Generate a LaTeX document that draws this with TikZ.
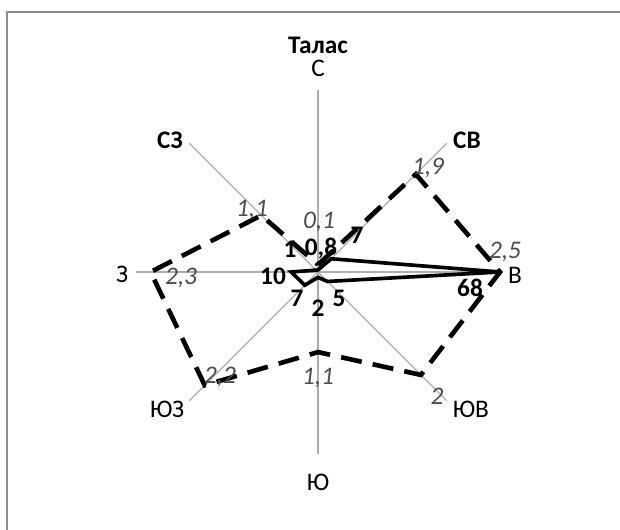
\documentclass[tikz,border=0pt]{standalone}
\usepackage{fontspec}
\setmainfont{Carlito}
\usepackage{tikz}

\newcommand{\chartfont}{\fontsize{18}{21}\selectfont}

\begin{document}
\begin{tikzpicture}[x=0.025cm, y=0.025cm, font=\chartfont,
	axisline/.style={draw=black!32, line width=0.8pt},
	windA/.style={draw=black, line width=3.3pt, dash pattern=on 15pt off 8pt, line join=miter},
	windB/.style={draw=black, line width=2.6pt, line join=miter},
	lblA/.style={font=\chartfont\itshape, text=black!70, inner sep=0pt},
	lblB/.style={font=\chartfont\bfseries, inner sep=0pt},
	dirlbl/.style={inner sep=0pt}]
	\useasboundingbox (0,0) rectangle (620,530);
	%frame
	\draw[black!45, line width=1.4pt] (7,0) -- (7,518) -- (620,518);
	%axes
	\begin{scope}[shift={(318,258)}]
		\coordinate (O) at (0,0);
		\draw[axisline] (O) -- (90:182);
		\draw[axisline] (O) -- (45:182);
		\draw[axisline] (O) -- (0:182);
		\draw[axisline] (O) -- (-45:182);
		\draw[axisline] (O) -- (-90:182);
		\draw[axisline] (O) -- (-135:182);
		\draw[axisline] (O) -- (180:182);
		\draw[axisline] (O) -- (135:182);
		%first series (dashed)
		\draw[windA] (90:7.3) -- (45:138.3) -- (0:182) -- (-45:145.6) -- (-90:80.1)
			-- (-135:160.2) -- (180:167.4) -- (135:80.1) -- cycle;
		%second series (solid)
		\draw[windB] (90:2.1) -- (45:18.7) -- (0:182) -- (-45:13.4) -- (-90:5.4)
			-- (-135:18.7) -- (180:26.8) -- (135:2.7) -- cycle;
	\end{scope}
	%title and directions
	\node[font=\chartfont\bfseries, dirlbl] (title) at (318,485) {Талас};
	\node[dirlbl] (dN) at (318,462) {С};
	\node[font=\chartfont\bfseries, dirlbl] (dNW) at (170,390) {СЗ};
	\node[font=\chartfont\bfseries, dirlbl] (dNE) at (467,390) {СВ};
	\node[dirlbl] (dW) at (122,256) {З};
	\node[dirlbl] (dE) at (515,255) {В};
	\node[dirlbl] (dSW) at (167,121) {ЮЗ};
	\node[dirlbl] (dSE) at (471,121) {ЮВ};
	\node[dirlbl] (dS) at (318,48) {Ю};
	%values of the first series
	\node[lblA] (aN) at (319,308) {0,1};
	\node[lblA] (aNE) at (428,362) {1,9};
	\node[lblA] (aE) at (505,278) {2,5};
	\node[lblA] (aSE) at (437,134) {2};
	\node[lblA] (aS) at (318,152) {1,1};
	\node[lblA] (aSW) at (220,153) {2,2};
	\node[lblA] (aW) at (181,252) {2,3};
	\node[lblA] (aNW) at (252,320) {1,1};
	%values of the second series
	\node[lblB] (bN) at (321,282) {0,8};
	\node[lblB] (bNE) at (357,295) {7};
	\node[lblB] (bE) at (470,242) {68};
	\node[lblB] (bSE) at (339,232) {5};
	\node[lblB] (bS) at (318,222) {2};
	\node[lblB] (bSW) at (297,232) {7};
	\node[lblB] (bW) at (273,254) {10};
	\node[lblB] (bNW) at (290,281) {1};
\end{tikzpicture}
\end{document}
